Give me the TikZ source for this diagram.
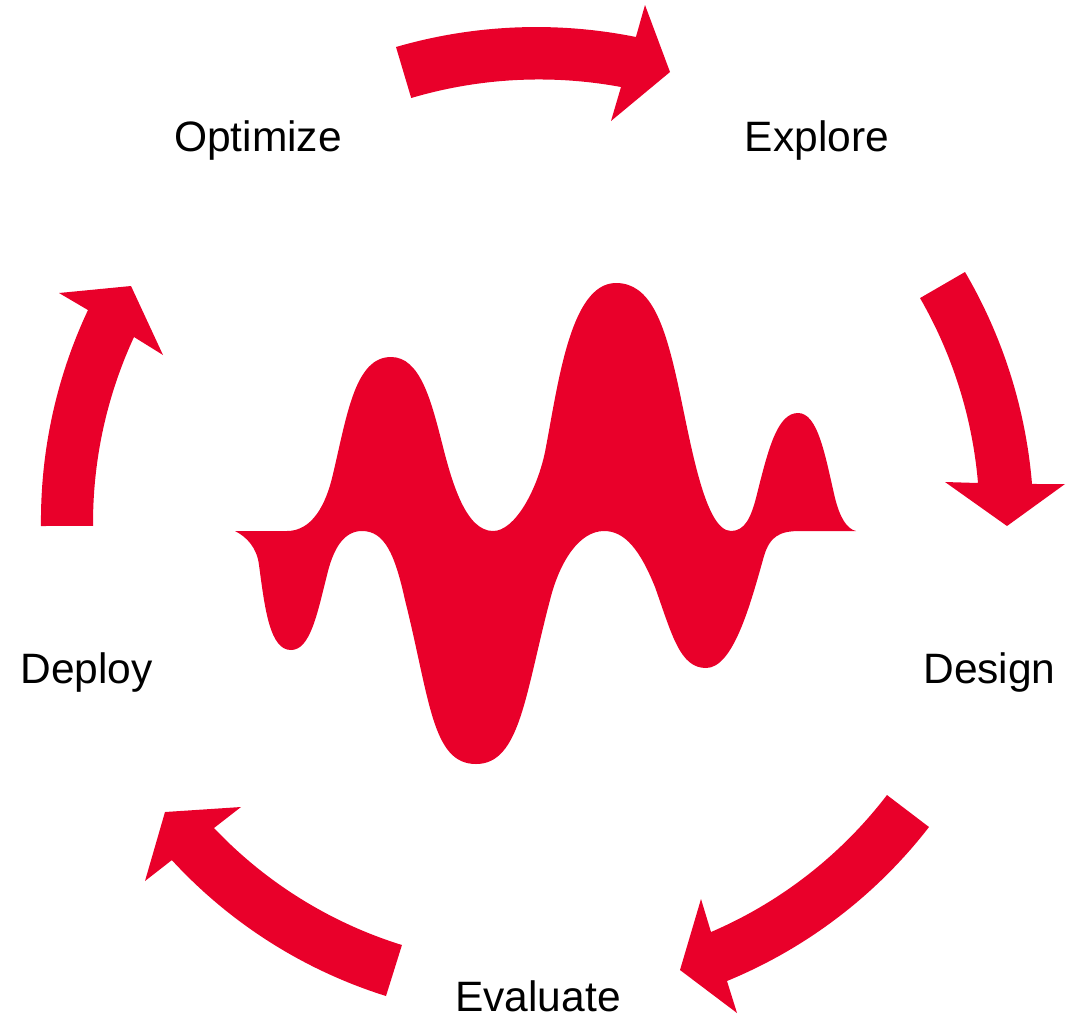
\documentclass[tikz,border=0pt]{standalone}
\usepackage{fontspec}
\setmainfont{Liberation Sans}
\definecolor{brandred}{HTML}{E9002A}
\tikzset{
  shapefill/.style={fill=brandred,draw=none},
  steplabel/.style={anchor=base,inner sep=0pt,text=black,font=\fontsize{42.5}{48}\selectfont}
}
\begin{document}
\begin{tikzpicture}[x=1pt,y=-1pt]
\useasboundingbox (0,0) rectangle (1081,1013);
% arrows
\fill[shapefill] (396,47) arc[start angle=-106.2,end angle=-78.58,radius=503]
  -- (645,5) -- (670,72) -- (611,121) -- (621,87)
  arc[start angle=-79.5,end angle=-106.5,radius=450] -- cycle;
\fill[shapefill] (965,272) arc[start angle=-30.36,end angle=-4.72,radius=501]
  -- (1065,484) -- (1007,526) -- (945,482) -- (978,483)
  arc[start angle=-4.86,end angle=-29.96,radius=446] -- cycle;
\fill[shapefill] (929,827) arc[start angle=37.72,end angle=67.64,radius=492]
  -- (737,1013) -- (680,970) -- (701,899) -- (711,932)
  arc[start angle=66.78,end angle=37.42,radius=440] -- cycle;
\fill[shapefill] (386,996) arc[start angle=107.4,end angle=137.4,radius=490]
  -- (145,881) -- (165,812) -- (241,807) -- (214,828)
  arc[start angle=136.54,end angle=107.26,radius=438] -- cycle;
\fill[shapefill] (41,526) arc[start angle=-180.62,end angle=-154.82,radius=495]
  -- (59,293) -- (131,286) -- (163,355) -- (134,337)
  arc[start angle=-155.16,end angle=-180.36,radius=443] -- cycle;
% wave
\fill[shapefill] (235,531) -- (287,531)
  .. controls (312,531) and (326,505) .. (333,474)
  .. controls (347,415) and (355,357) .. (391,357)
  .. controls (420,357) and (431,400) .. (442,443)
  .. controls (452,483) and (466,531) .. (493,531)
  .. controls (515,531) and (537,490) .. (545,452)
  .. controls (558,385) and (570,283) .. (616,283)
  .. controls (650,283) and (664,322) .. (677,380)
  .. controls (690,438) and (704,531) .. (731,531)
  .. controls (745,531) and (751,517) .. (756,498)
  .. controls (768,450) and (777,413) .. (798,413)
  .. controls (818,413) and (825,455) .. (835,498)
  .. controls (840,518) and (847,529) .. (856,531)
  -- (800,531)
  .. controls (780,531) and (770,536) .. (764,556)
  .. controls (750,606) and (733,668) .. (706,668)
  .. controls (680,668) and (672,635) .. (655,587)
  .. controls (640,550) and (625,531) .. (604,531)
  .. controls (580,531) and (560,560) .. (550,600)
  .. controls (525,695) and (520,764) .. (476,764)
  .. controls (432,764) and (430,700) .. (405,600)
  .. controls (395,555) and (385,531) .. (362,531)
  .. controls (343,531) and (333,550) .. (327,575)
  .. controls (317,615) and (310,650) .. (291,650)
  .. controls (270,650) and (265,610) .. (259,565)
  .. controls (257,548) and (247,537) .. (235,531) -- cycle;
% labels
\node[steplabel] (optimize) at (258,151.5) {Optimize};
\node[steplabel] (explore) at (817,151.5) {Explore};
\node[steplabel] (design) at (989.5,683.5) {Design};
\node[steplabel] (evaluate) at (538,1011) {Evaluate};
\node[steplabel] (deploy) at (86.5,683.5) {Deploy};
\end{tikzpicture}
\end{document}
